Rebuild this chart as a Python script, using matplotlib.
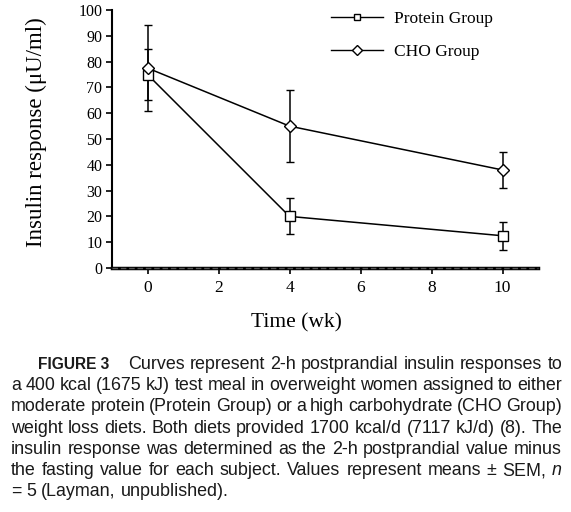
import numpy as np
import matplotlib
matplotlib.use("Agg")
import matplotlib.pyplot as plt
from matplotlib.lines import Line2D

# ----------------------------
# Data
# ----------------------------
weeks = [0, 4, 10]
protein_mean = [75, 20, 12.5]
protein_sem = [10, 7, 5.5]
cho_mean = [77.5, 55, 38]
cho_sem = [16.5, 14, 7]

y_ticks = list(range(0, 101, 10))
x_ticks = [0, 2, 4, 6, 8, 10]

caption_lines = [
    "Curves represent 2-h postprandial insulin responses to",
    "a 400 kcal (1675 kJ) test meal in overweight women assigned to either",
    "moderate protein (Protein Group) or a high carbohydrate (CHO Group)",
    "weight loss diets. Both diets provided 1700 kcal/d (7117 kJ/d) (8). The",
    "insulin response was determined as the 2-h postprandial value minus",
    "the fasting value for each subject. Values represent means \u00b1 SEM,",
    "= 5 (Layman, unpublished).",
]

W, H = 571, 512
fig = plt.figure(figsize=(W / 100, H / 100), dpi=100)
serif = "Liberation Serif"
sans = "Liberation Sans"

# axes box in pixels: left 112, right 538, top 10, bottom 268
ax = fig.add_axes([112 / W, 1 - 268 / H, (538 - 112) / W, (268 - 10) / H])

ax.errorbar(weeks, protein_mean, yerr=protein_sem, color="black", lw=1.1,
            marker="s", ms=6.5, mfc="white", mec="black", mew=1.0,
            capsize=3, elinewidth=1.1, capthick=1.1, zorder=3)
ax.errorbar(weeks, cho_mean, yerr=cho_sem, color="black", lw=1.1,
            marker="D", ms=6.5, mfc="white", mec="black", mew=1.0,
            capsize=3, elinewidth=1.1, capthick=1.1, zorder=3)

ax.set_xlim(-1, 11)
ax.set_ylim(0, 100)
ax.set_xticks(x_ticks)
ax.set_yticks(y_ticks)

for s in ["top", "right"]:
    ax.spines[s].set_visible(False)
ax.spines["left"].set_linewidth(1.5)
ax.spines["bottom"].set_linewidth(2.5)
ax.axhline(0, color="#555555", lw=1.0, ls=(0, (4, 2)), zorder=4, clip_on=False)

ax.tick_params(axis="both", direction="out", length=4, width=1.2, pad=3)
ax.tick_params(axis="y", labelsize=11.5)
ax.tick_params(axis="x", labelsize=12.5, pad=5)
for lab in ax.get_xticklabels() + ax.get_yticklabels():
    lab.set_fontfamily(serif)

ax.set_ylabel("Insulin response (\u03bcU/ml)", fontsize=16.5, fontfamily=serif)
ax.yaxis.set_label_coords(-0.153, 0.527)
ax.set_xlabel("Time (wk)", fontsize=15.5, fontfamily=serif)
ax.xaxis.set_label_coords(0.434, -0.175)

handles = [
    Line2D([], [], color="black", lw=1.0, marker="s", ms=5, mfc="white", mec="black"),
    Line2D([], [], color="black", lw=1.0, marker="D", ms=5, mfc="white", mec="black"),
]
ax.legend(handles, ["Protein Group", "CHO Group"], loc="upper left",
          bbox_to_anchor=(324 / W, 1 - 4 / H),
          bbox_transform=fig.transFigure, frameon=False,
          prop={"family": serif, "size": 12.5}, handlelength=3.0,
          handletextpad=0.65, labelspacing=0.98, borderaxespad=0)

# ----------------------------
# Caption (justified by hand)
# ----------------------------
renderer = fig.canvas.get_renderer()
fs = 12.9
left, right = 11, 562
top = 369
step = 21.2


def text_w(s, size=fs, **kw):
    t = fig.text(0, 0, s, fontsize=size, fontfamily=sans, **kw)
    w = t.get_window_extent(renderer).width
    t.remove()
    return w


def put_words(words, x0, x1, y, justify, styles=None):
    styles = styles or [{}] * len(words)
    widths = [text_w(w, **st) for w, st in zip(words, styles)]
    gap = text_w("a b") - text_w("ab")
    if justify and len(words) > 1:
        gap = (x1 - x0 - sum(widths)) / (len(words) - 1)
    x = x0
    for w, wd, st in zip(words, widths, styles):
        fig.text(x / W, 1 - y / H, w, fontsize=fs, fontfamily=sans,
                 va="baseline", ha="left", color="#1a1a1a", **st)
        x += wd + gap


# first line: bold label then justified text
fig.text(38 / W, 1 - top / H, "FIGURE 3", fontsize=11.2, fontfamily=sans,
         fontweight="bold", va="baseline", ha="left", color="#1a1a1a")
put_words(caption_lines[0].split(), 128, right, top, True)

for i, line in enumerate(caption_lines[1:], start=1):
    y = top + i * step
    words = line.split()
    styles = [{}] * len(words)
    if i == 5:
        words = words + ["n"]
        styles = styles + [{"fontstyle": "italic"}]
    put_words(words, left, right, y, i < len(caption_lines) - 1, styles)

fig.savefig("out.png", dpi=100)
